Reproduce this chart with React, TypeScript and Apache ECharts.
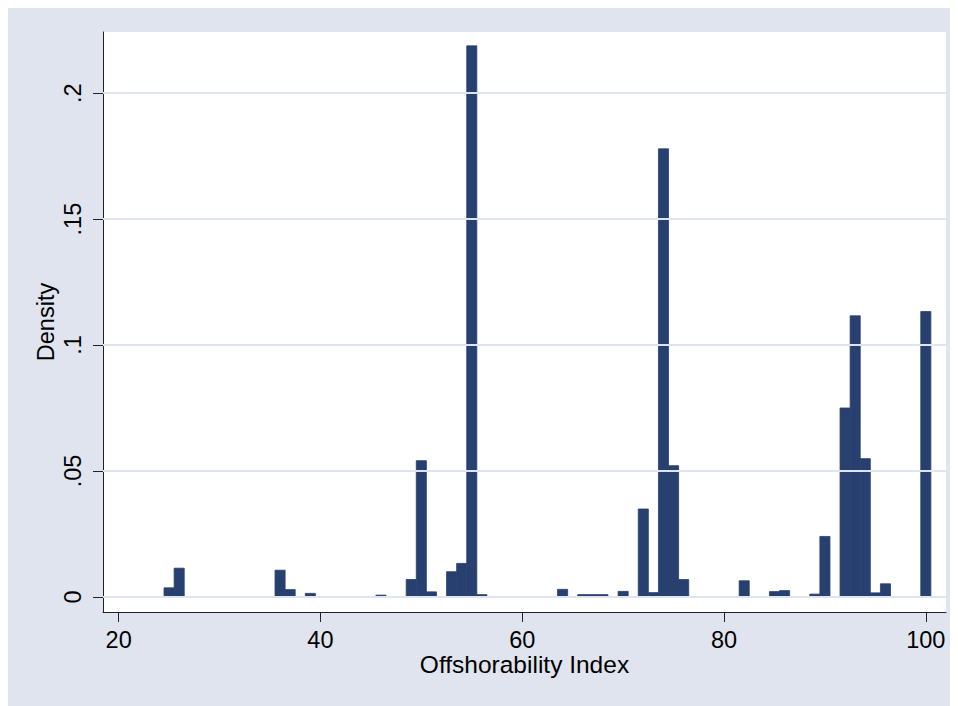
import React, { useEffect, useRef } from "react";
import * as echarts from "echarts";

// Bin centres (Offshorability Index, bin width 1) and densities
const binCenters = [25, 26, 36, 37, 39, 46, 49, 50, 51, 53, 54, 55, 56, 64, 66, 67, 68, 70, 72, 73, 74, 75, 76, 82, 85, 86, 89, 90, 92, 93, 94, 95, 96, 100];
const densities = [0.0036, 0.0114, 0.0106, 0.0029, 0.0014, 0.0007, 0.0069, 0.0541, 0.002, 0.01, 0.0133, 0.2188, 0.0009, 0.003, 0.0009, 0.0009, 0.0009, 0.0022, 0.0349, 0.0017, 0.1779, 0.0521, 0.0069, 0.0064, 0.0021, 0.0025, 0.0011, 0.024, 0.075, 0.1116, 0.0549, 0.0016, 0.0052, 0.1133];
const binWidth = 1;
const xTicks = [20, 40, 60, 80, 100];
const yTicks = [0, 0.05, 0.1, 0.15, 0.2];
const yTickLabels = ["0", ".05", ".1", ".15", ".2"];

const FONT = "Liberation Sans, Arial, Helvetica, sans-serif";
const BAR = "#27406f";
const GRID = "#dfe5ef";
const BG = "#dfe4ee";

export default function App() {
  const ref = useRef<HTMLDivElement>(null);
  useEffect(() => {
    if (!ref.current) return;
    document.documentElement.style.overflow = "hidden";
    document.body.style.overflow = "hidden";
    const chart = echarts.init(ref.current, undefined, { renderer: "svg" });
    const data = binCenters.map((c, i) => [c, densities[i]]);
    chart.setOption({
      animation: false,
      backgroundColor: BG,
      grid: {
        left: 95,
        top: 24,
        right: 32,
        bottom: 116,
        show: true,
        backgroundColor: "#ffffff",
        borderWidth: 0,
      },
      xAxis: {
        type: "value",
        min: 18.45,
        max: 102,
        name: "Offshorability Index",
        nameLocation: "middle",
        nameGap: 40,
        nameMoveOverlap: false,
        nameTextStyle: { fontSize: 24.5, color: "#000", fontFamily: FONT },
        axisLine: { show: true, onZero: false, lineStyle: { color: "#222", width: 1 } },
        axisTick: { show: true, customValues: xTicks, length: 10, lineStyle: { color: "#222", width: 1 } },
        axisLabel: { customValues: xTicks, fontSize: 23.5, color: "#000", fontFamily: FONT, margin: 16 },
        splitLine: { show: false },
      },
      yAxis: {
        type: "value",
        min: -0.006,
        max: 0.2243,
        name: "Density",
        nameLocation: "middle",
        nameGap: 45,
        nameMoveOverlap: false,
        nameTextStyle: { fontSize: 23.5, color: "#000", fontFamily: FONT },
        axisLine: { show: true, onZero: false, lineStyle: { color: "#222", width: 1 } },
        axisTick: { show: true, customValues: yTicks, length: 10, lineStyle: { color: "#222", width: 1 } },
        axisLabel: {
          customValues: yTicks,
          rotate: 90,
          fontSize: 23.5,
          color: "#000",
          fontFamily: FONT,
          margin: 18,
          formatter: (v: number) => {
            const idx = yTicks.findIndex((t) => Math.abs(t - v) < 1e-9);
            return idx >= 0 ? yTickLabels[idx] : "";
          },
        },
        splitLine: { show: false },
      },
      series: [
        {
          type: "line",
          data: [],
          z: 1,
          silent: true,
          markLine: {
            silent: true,
            symbol: ["none", "none"],
            label: { show: false },
            lineStyle: { color: GRID, width: 2, type: "solid" },
            data: yTicks.map((t) => ({ yAxis: t })),
          },
        },
        {
          type: "custom",
          z: 2,
          data,
          renderItem: (params: any, api: any) => {
            const c = api.value(0);
            const h = api.value(1);
            const p0 = api.coord([c - binWidth / 2, h]);
            const p1 = api.coord([c + binWidth / 2, 0]);
            return {
              type: "rect",
              shape: { x: p0[0], y: p0[1], width: p1[0] - p0[0], height: p1[1] - p0[1] },
              style: { fill: BAR, stroke: BAR, lineWidth: 0.8, lineJoin: "round" },
            };
          },
        },
      ],
    });
    return () => chart.dispose();
  }, []);
  return <div ref={ref} style={{ width: 970, height: 720 }} />;
}
